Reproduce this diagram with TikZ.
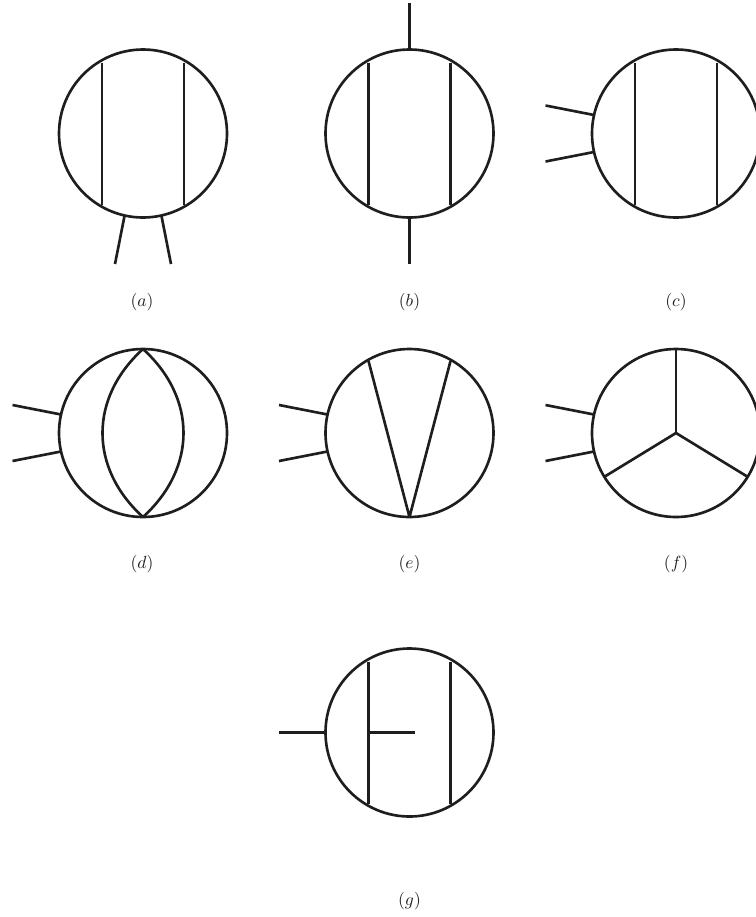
\documentclass[tikz,border=0pt]{standalone}
\usepackage{xcolor}
\usepackage{tikz}
\definecolor{fgblack}{RGB}{30,30,30}
\tikzset{
  loopline/.style={draw=fgblack, line width=1.5pt, line join=bevel},
  caption/.style={font=\normalsize, text=fgblack, inner sep=0pt},
}
\begin{document}
\begin{tikzpicture}[x=0.02cm, y=-0.02cm]
\useasboundingbox (0,0) rectangle (755,917);
% circle centres, in reference pixels
\def\ca{143} \def\cb{409.5} \def\cc{676}
\def\ra{133.5} \def\rb{433} \def\rc{732.5}
\def\rad{84}

% all seven bubbles
\foreach \cx/\cy/\n in {\ca/\ra/a, \cb/\ra/b, \cc/\ra/c, \ca/\rb/d, \cb/\rb/e, \cc/\rb/f, \cb/\rc/g}
  \draw[loopline] (\cx,\cy) circle (\rad);

% top row: two vertical rungs
\foreach \cx in {\ca,\cb,\cc} {
  \draw[loopline] (\cx-41,\ra-71) -- (\cx-41,\ra+71.5);
  \draw[loopline] (\cx+41,\ra-71) -- (\cx+41,\ra+71.5);
}

% (a) legs below
\draw[loopline] (124.5,216) -- (115,264);
\draw[loopline] (161.5,216) -- (171,264);

% (b) legs top and bottom
\draw[loopline] (\cb,3) -- (\cb,\ra-84);
\draw[loopline] (\cb,\ra+84) -- (\cb,264);

% legs on the left of (c) to (f)
\foreach \cx/\cy in {\cc/\ra, \ca/\rb, \cb/\rb, \cc/\rb} {
  \draw[loopline] (\cx-130.5,\cy-28) -- (\cx-82,\cy-18.5);
  \draw[loopline] (\cx-130.5,\cy+28) -- (\cx-82,\cy+18.5);
}

% (d) lens
\draw[loopline] (\ca,\rb-84) .. controls (\ca-54,\rb-35) and (\ca-54,\rb+35) .. (\ca,\rb+84);
\draw[loopline] (\ca,\rb-84) .. controls (\ca+54,\rb-35) and (\ca+54,\rb+35) .. (\ca,\rb+84);

% (e) wedge
\draw[loopline] (\cb-41,\rb-72) -- (\cb,\rb+84) -- (\cb+41,\rb-72);

% (f) three spokes
\draw[loopline] (\cc,\rb-84) -- (\cc,\rb);
\draw[loopline] (\cc,\rb) -- (\cc-72,\rb+44);
\draw[loopline] (\cc,\rb) -- (\cc+72,\rb+44);

% (g) rungs with stub
\draw[loopline] (\cb-41,\rc-71) -- (\cb-41,\rc+71.5);
\draw[loopline] (\cb+41,\rc-71) -- (\cb+41,\rc+71.5);
\draw[loopline] (\cb-41,\rc) -- (\cb+5,\rc);
\draw[loopline] (\cb-130.5,\rc) -- (\cb-84,\rc);

% captions
\node[caption] (capa) at (\ca-1,302) {$(a)$};
\node[caption] (capb) at (\cb,302) {$(b)$};
\node[caption] (capc) at (\cc,302) {$(c)$};
\node[caption] (capd) at (\ca-1,564) {$(d)$};
\node[caption] (cape) at (\cb,564) {$(e)$};
\node[caption] (capf) at (\cc,564) {$(f)$};
\node[caption] (capg) at (\cb,901.5) {$(g)$};
\end{tikzpicture}
\end{document}
